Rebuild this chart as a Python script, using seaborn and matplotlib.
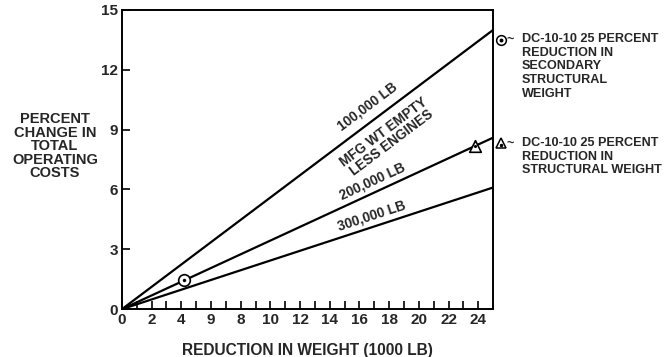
import numpy as np
import pandas as pd
import matplotlib
matplotlib.use("Agg")
import matplotlib.pyplot as plt
import seaborn as sns

# Weight reduction (1000 lb) and resulting % change in total operating costs
weight_reduction = [0, 25]
cost_100k = [0, 14.0]
cost_200k = [0, 8.6]
cost_300k = [0, 6.1]
series_names = ["100,000 LB", "200,000 LB", "300,000 LB"]

# DC-10-10 study points
secondary_x = [4.2]
secondary_y = [1.45]
structural_x = [23.8]
structural_y = [8.2]

x_ticks = list(range(0, 25, 2))
x_tick_labels = ["0", "2", "4", "9", "8", "10", "12", "14", "16", "18", "20", "22", "24"]
y_ticks = [0, 3, 6, 9, 12, 15]

sns.set_style("ticks")
plt.rcParams["font.family"] = ["Liberation Sans", "DejaVu Sans"]
plt.rcParams["font.weight"] = "bold"

fig = plt.figure(figsize=(6.7, 3.57), dpi=100)
ax = fig.add_axes([0.182, 0.134, 0.554, 0.838])

df = pd.DataFrame({
    "w": weight_reduction * 3,
    "cost": cost_100k + cost_200k + cost_300k,
    "series": [s for s in series_names for _ in weight_reduction],
})
sns.lineplot(data=df, x="w", y="cost", units="series", estimator=None,
             color="black", linewidth=1.6, ax=ax, legend=False)

# Study points: open marker with a dot in the centre
sns.scatterplot(x=secondary_x, y=secondary_y, marker="o", s=70, facecolor="white",
                edgecolor="black", linewidth=1.2, ax=ax, zorder=5)
sns.scatterplot(x=secondary_x, y=secondary_y, marker="o", s=6, color="black",
                linewidth=0, ax=ax, zorder=6)
sns.scatterplot(x=structural_x, y=structural_y, marker="^", s=70, facecolor="white",
                edgecolor="black", linewidth=1.2, ax=ax, zorder=5)
sns.scatterplot(x=structural_x, y=structural_y, marker="o", s=5, color="black",
                linewidth=0, ax=ax, zorder=6)

ax.set_xlim(0, 25)
ax.set_ylim(0, 15)
ax.set_xticks(x_ticks)
ax.set_xticklabels(x_tick_labels)
ax.set_xticks(range(0, 25), minor=True)
ax.set_yticks(y_ticks)
ax.tick_params(axis="both", which="both", direction="in", length=6, width=1.2,
               labelsize=11, pad=3, color="black")
for lab in ax.get_xticklabels() + ax.get_yticklabels():
    lab.set_fontweight("bold")
for s in ax.spines.values():
    s.set_linewidth(1.4)
    s.set_color("black")
    s.set_visible(True)

ax.set_xlabel("REDUCTION IN WEIGHT (1000 LB)", fontsize=11.2, fontweight="bold", labelpad=11)
ax.set_ylabel("")
fig.text(0.082, 0.59, "PERCENT\nCHANGE IN\nTOTAL\nOPERATING\nCOSTS", ha="center",
         va="center", fontsize=10.5, fontweight="bold", linespacing=0.95)


def line_label(x, offset, ys, text, **kw):
    slope = (ys[1] - ys[0]) / (weight_reduction[1] - weight_reduction[0])
    ang = np.degrees(np.arctan(slope))
    ax.text(x, slope * x + offset, text, rotation=ang, rotation_mode="anchor",
            transform=ax.transData, transform_rotates_text=True,
            ha="center", va="center", fontweight="bold", **kw)


line_label(16.5, 0.9, cost_100k, "100,000 LB", fontsize=9.8)
line_label(17.9, -1.4, cost_100k, "MFG WT EMPTY\nLESS ENGINES", fontsize=9.8, linespacing=0.95)
line_label(16.9, 0.6, cost_200k, "200,000 LB", fontsize=9.8)
line_label(16.8, 0.6, cost_300k, "300,000 LB", fontsize=9.8)

# Key for the study points, right of the plot
ax.plot([1.021], [0.9], marker="o", ms=7, mfc="white", mec="black", mew=1.1,
        transform=ax.transAxes, clip_on=False)
ax.plot([1.021], [0.9], marker="o", ms=1.8, color="black",
        transform=ax.transAxes, clip_on=False)
ax.plot([1.021], [0.554], marker="^", ms=7, mfc="white", mec="black", mew=1.1,
        transform=ax.transAxes, clip_on=False)
ax.plot([1.021], [0.549], marker="o", ms=1.5, color="black",
        transform=ax.transAxes, clip_on=False)
ax.text(1.036, 0.9, "~", transform=ax.transAxes, ha="left", va="center",
        fontsize=9, fontweight="bold")
ax.text(1.036, 0.552, "~", transform=ax.transAxes, ha="left", va="center",
        fontsize=9, fontweight="bold")
ax.text(1.078, 0.924, "DC-10-10 25 PERCENT\nREDUCTION IN\nSECONDARY\nSTRUCTURAL\nWEIGHT",
        transform=ax.transAxes, ha="left", va="top", fontsize=9.1, fontweight="bold",
        linespacing=1.2)
ax.text(1.078, 0.576, "DC-10-10 25 PERCENT\nREDUCTION IN\nSTRUCTURAL WEIGHT",
        transform=ax.transAxes, ha="left", va="top", fontsize=9.1, fontweight="bold",
        linespacing=1.2)

fig.savefig("out.png", dpi=100, facecolor="white")
